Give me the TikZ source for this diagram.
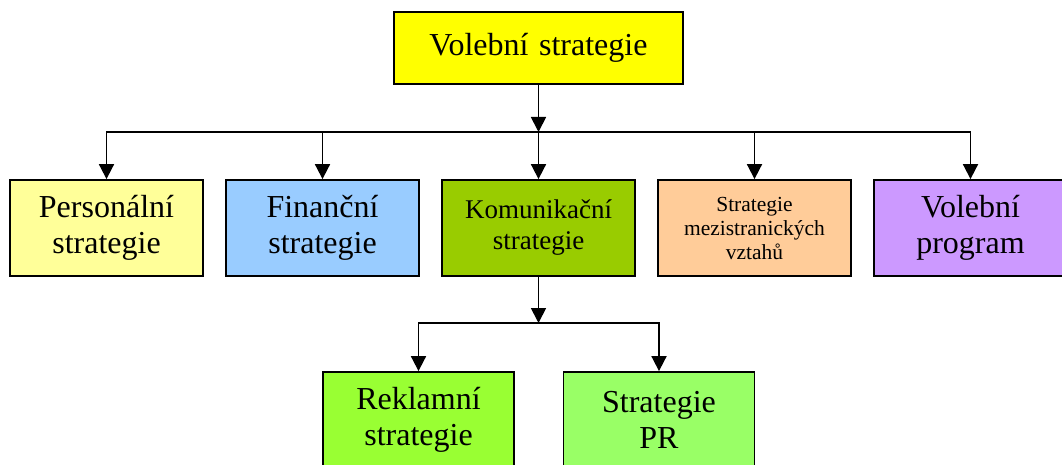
\documentclass[tikz,border=0pt]{standalone}
\usepackage{fontspec}
\setmainfont{Liberation Serif}
\usetikzlibrary{arrows.meta}
\definecolor{cTop}{HTML}{FFFF00}
\definecolor{cPers}{HTML}{FFFF99}
\definecolor{cFin}{HTML}{99CCFF}
\definecolor{cKom}{HTML}{99CC00}
\definecolor{cMez}{HTML}{FFCC99}
\definecolor{cVol}{HTML}{CC99FF}
\definecolor{cRek}{HTML}{99FF33}
\definecolor{cPR}{HTML}{99FF66}
\tikzset{
  box/.style={draw=black, line width=1.8pt, align=center, inner sep=0pt,
    minimum width=193pt, minimum height=96pt, text width=185pt,
    font=\fontsize{32}{36}\selectfont},
  conn/.style={line width=1.8pt, -{Triangle[width=15pt,length=15pt]}}
}
\begin{document}
\begin{tikzpicture}[x=1pt,y=1pt]
\clip (0,0) rectangle (1062,464);
\fill[white] (0,0) rectangle (1062,464);
\node[box, fill=cTop, minimum width=289pt, minimum height=72pt, text width=280pt] (top) at (538.5,416) {Volební strategie};
\node[box, fill=cPers] (pers) at (106.5,236) {Personální\\strategie};
\node[box, fill=cFin] (fin) at (322.5,236) {Finanční\\strategie};
\node[box, fill=cKom, font=\fontsize{27}{31}\selectfont] (kom) at (538.5,236) {Komunikační\\strategie};
\node[box, fill=cMez, font=\fontsize{21.5}{24}\selectfont] (mez) at (754.5,236) {Strategie\\mezistranických\\vztahů};
\node[box, fill=cVol] (vol) at (970.5,236) {Volební\\program};
\node[box, fill=cRek, minimum width=191pt] (rek) at (418.5,44) {Reklamní\\strategie};
\node[box, fill=cPR, minimum width=191pt] (pr) at (659,44) {Strategie\\PR};
\coordinate (j1) at (538.5,332);
\coordinate (j2) at (538.5,141);
\draw[conn] (top.south) -- (j1);
\draw[conn] (j1) -| (pers.north);
\draw[conn] (j1) -| (vol.north);
\draw[conn] (j1 -| fin.north) -- (fin.north);
\draw[conn] (j1 -| kom.north) -- (kom.north);
\draw[conn] (j1 -| mez.north) -- (mez.north);
\draw[conn] (kom.south) -- (j2);
\draw[conn] (j2) -| (rek.north);
\draw[conn] (j2) -| (pr.north);
\end{tikzpicture}
\end{document}
